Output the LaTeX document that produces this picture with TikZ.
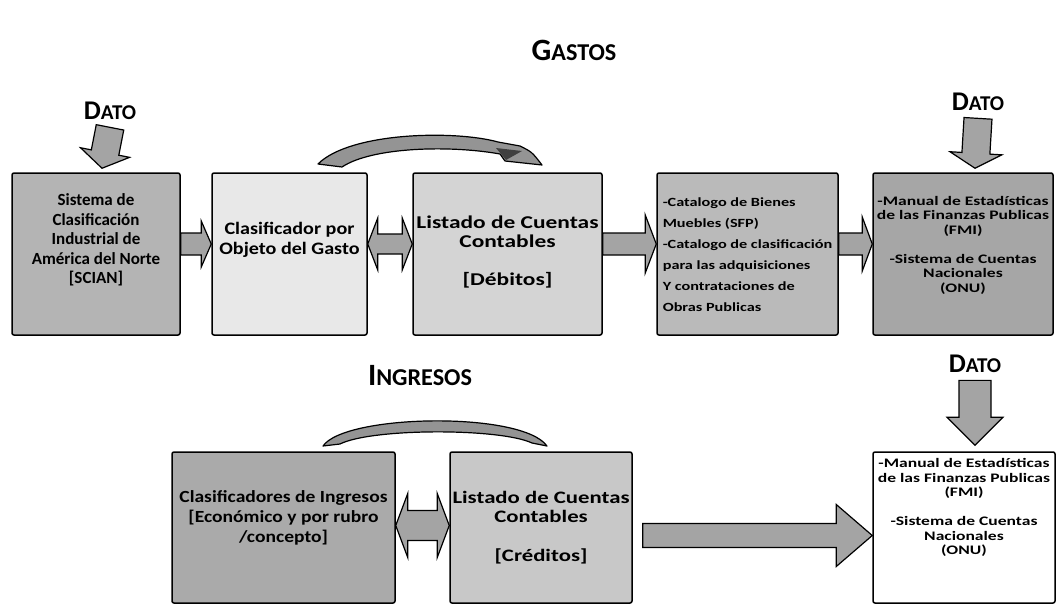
\documentclass[tikz,border=0pt]{standalone}
\usepackage{fontspec}
\setmainfont{Carlito}
\newfontfamily\boxfont[FakeStretch=1.15]{Carlito}
\newfontfamily\widefont[FakeStretch=1.3]{Carlito}
\newfontfamily\smallfont[FakeStretch=1.35]{Carlito}
\usepackage{tikz}
\usetikzlibrary{calc,positioning}
\definecolor{fillscian}{HTML}{B4B4B4}
\definecolor{fillobj}{HTML}{E8E8E8}
\definecolor{fillctas}{HTML}{D4D4D4}
\definecolor{fillcat}{HTML}{BABABA}
\definecolor{fillman}{HTML}{A6A6A6}
\definecolor{fillclas}{HTML}{AAAAAA}
\definecolor{fillcred}{HTML}{C8C8C8}
\definecolor{arrgray}{HTML}{A4A4A4}
\definecolor{bandgray}{HTML}{949494}
\tikzset{
  box/.style={draw=black, line width=1.5pt, rounded corners=2pt, minimum height=162pt, inner sep=0pt},
  txt/.style={text=black, font=\bfseries\fontsize{17}{19.5}\selectfont, align=center},
  txts/.style={text=black, font=\smallfont\bfseries\fontsize{13}{14.5}\selectfont, align=center},
  ttl/.style={text=black, font=\bfseries},
  blk/.style={fill=arrgray, draw=black, line width=1.2pt, line join=miter},
  band/.style={fill=bandgray, draw=black, line width=1.2pt, line join=round},
}
% title in small caps: first letter large, rest smaller
\newcommand{\bigsc}[3][24]{{\fontsize{#1}{#1}\selectfont #2}{\fontsize{\fpeval{0.78*#1}}{#1}\selectfont #3}}
% block arrow: from, to, shaft half width, head half width, head length
\newcommand{\fatarrow}[5]{%
  \coordinate (fa-s) at (#1);
  \coordinate (fa-e) at (#2);
  \coordinate (fa-h) at ($(fa-e)!#5!(fa-s)$);
  \filldraw[blk] ($(fa-s)!#3!90:(fa-e)$) -- ($(fa-h)!#3!90:(fa-e)$) -- ($(fa-h)!#4!90:(fa-e)$)
    -- (fa-e) -- ($(fa-h)!#4!-90:(fa-e)$) -- ($(fa-h)!#3!-90:(fa-e)$) -- ($(fa-s)!#3!-90:(fa-e)$) -- cycle;}
% block arrow with a head at both ends
\newcommand{\dblarrow}[5]{%
  \coordinate (da-s) at (#1);
  \coordinate (da-e) at (#2);
  \coordinate (da-h) at ($(da-e)!#5!(da-s)$);
  \coordinate (da-g) at ($(da-s)!#5!(da-e)$);
  \filldraw[blk] (da-s) -- ($(da-g)!#4!90:(da-e)$) -- ($(da-g)!#3!90:(da-e)$) -- ($(da-h)!#3!90:(da-e)$)
    -- ($(da-h)!#4!90:(da-e)$) -- (da-e) -- ($(da-h)!#4!-90:(da-e)$) -- ($(da-h)!#3!-90:(da-e)$)
    -- ($(da-g)!#3!-90:(da-e)$) -- ($(da-g)!#4!-90:(da-e)$) -- cycle;}

\begin{document}
\begin{tikzpicture}[x=1pt, y=-1pt]
\useasboundingbox (0,0) rectangle (1057,605);

% titles
\node[ttl] (gastos) at (574,50) {\bigsc[31]{G}{ASTOS}};
\node[ttl] (ingresos) at (420,376) {\bigsc[31]{I}{NGRESOS}};
\node[ttl] (datoa) at (110,111) {\bigsc[27]{D}{ATO}};
\node[ttl] (datob) at (978,102) {\bigsc[27]{D}{ATO}};
\node[ttl] (datoc) at (975,364) {\bigsc[27]{D}{ATO}};

% gastos row
\node[box, fill=fillscian, minimum width=168pt] (scian) at (96,254) {};
\node[box, fill=fillobj, minimum width=155pt] (objgasto) at (289.5,254) {};
\node[box, fill=fillctas, minimum width=189pt] (ctasdeb) at (507.5,254) {};
\node[box, fill=fillcat, minimum width=181pt] (catalogos) at (747.5,254) {};
\node[box, fill=fillman, minimum width=180pt] (manualg) at (963,254) {};

\node[txt] (sciantxt) at ([yshift=14pt]scian.center) {Sistema de\\Clasificación\\Industrial de\\América del Norte\\{[SCIAN]}};
\node[txt, font=\boxfont\bfseries\fontsize{17.5}{20}\selectfont] (objgastotxt) at ([yshift=14pt]objgasto.center) {Clasificador por\\Objeto del Gasto};
\node[txt, font=\widefont\bfseries\fontsize{18}{19}\selectfont] (ctasdebtxt) at ([yshift=2pt]ctasdeb.center) {Listado de Cuentas\\Contables\\[\baselineskip]{[Débitos]}};
\node[txts, align=left, font=\widefont\bfseries\fontsize{12.5}{21}\selectfont] (catalogostxt) at ([yshift=-1pt]catalogos.center)
  {-Catalogo de Bienes\\Muebles (SFP)\\-Catalogo de clasificación\\para las adquisiciones\\Y contrataciones de\\Obras Publicas};
\node[txts] (manualgtxt) at ([yshift=9pt]manualg.center)
  {-Manual de Estadísticas\\de las Finanzas Publicas\\(FMI)\\[\baselineskip]-Sistema de Cuentas\\Nacionales\\(ONU)};

% ingresos row
\node[box, fill=fillclas, minimum width=223pt, minimum height=151pt] (clasing) at (283.5,527.5) {};
\node[box, fill=fillcred, minimum width=182pt, minimum height=151pt] (ctascred) at (541,527.5) {};
\node[box, fill=white, minimum width=182pt, minimum height=151pt] (manuali) at (964,527.5) {};

\node[txt, font=\boxfont\bfseries\fontsize{17}{20}\selectfont] (clasingtxt) at ([yshift=10pt]clasing.center) {Clasificadores de Ingresos\\{[Económico y por rubro}\\/concepto]};
\node[txt, font=\widefont\bfseries\fontsize{17.5}{19.5}\selectfont] (ctascredtxt) at ([yshift=0pt]ctascred.center) {Listado de Cuentas\\Contables\\[\baselineskip]{[Créditos]}};
\node[txts] (manualitxt) at ([yshift=20pt]manuali.center)
  {-Manual de Estadísticas\\de las Finanzas Publicas\\(FMI)\\[\baselineskip]-Sistema de Cuentas\\Nacionales\\(ONU)};

% straight block arrows
\fatarrow{[yshift=-4pt]datoa.south}{[xshift=6pt,yshift=4pt]scian.north}{14pt}{25pt}{16pt}
\fatarrow{[yshift=-4pt]datob.south}{[xshift=12pt,yshift=4pt]manualg.north}{14pt}{26pt}{15pt}
\fatarrow{[yshift=-4pt]datoc.south}{[xshift=11pt,yshift=6pt]manuali.north}{16pt}{28pt}{28pt}
\fatarrow{[yshift=10pt]scian.east}{[yshift=10pt]objgasto.west}{11pt}{23pt}{10pt}
\dblarrow{[yshift=10pt]objgasto.east}{[yshift=10pt]ctasdeb.west}{10pt}{26pt}{10pt}
\fatarrow{[yshift=10pt]ctasdeb.east}{[yshift=10pt]catalogos.west}{11pt}{29pt}{11pt}
\fatarrow{[yshift=10pt]catalogos.east}{[yshift=10pt]manualg.west}{11pt}{27pt}{10pt}
\dblarrow{[yshift=2pt]clasing.east}{[yshift=2pt]ctascred.west}{15pt}{32pt}{12pt}
\fatarrow{[xshift=10pt,yshift=-8pt]ctascred.east}{[yshift=-8pt]manuali.west}{12pt}{31pt}{36pt}

% curved bands over the boxes
\filldraw[band] (318,164) .. controls (350,132) and (455,130) .. (498,142) -- (520,146)
  .. controls (532,152) .. (542,165) -- (505,161) -- (500,154)
  .. controls (450,145) and (372,147) .. (342,167) -- cycle;
\fill[black!75] (496,148) -- (522,151) -- (506,160) -- cycle;
\filldraw[band] (323,446) .. controls (345,414) and (522,411) .. (547,446)
  -- (532,443) .. controls (500,428) and (372,428) .. (340,444) -- cycle;
\end{tikzpicture}
\end{document}
